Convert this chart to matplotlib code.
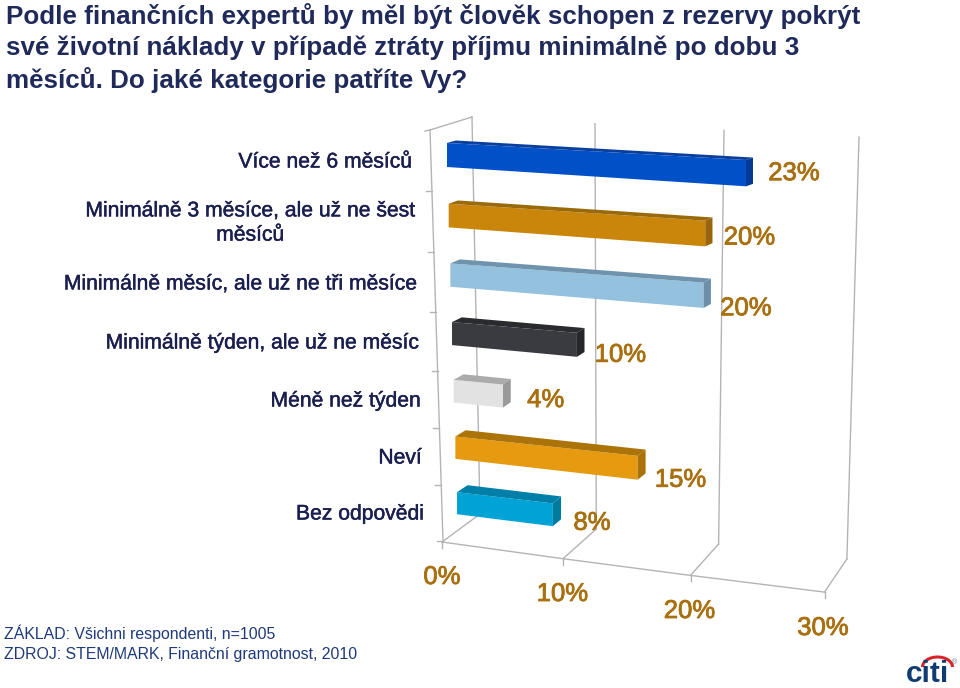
#!/usr/bin/env python3
"""
plot.py
Perspective bar chart of how long savings would cover living costs.
"""

import matplotlib

matplotlib.use("Agg")
import matplotlib.patheffects as pe
import matplotlib.pyplot as plt
from matplotlib.patches import Arc

TITLE_LINES = [
    "Podle finančních expertů by měl být člověk schopen z rezervy pokrýt",
    "své životní náklady v případě ztráty příjmu minimálně po dobu 3",
    "měsíců. Do jaké kategorie patříte Vy?",
]
CATEGORIES = [
    "Více než 6 měsíců",
    "Minimálně 3 měsíce, ale už ne šest\nměsíců",
    "Minimálně měsíc, ale už ne tři měsíce",
    "Minimálně týden, ale už ne měsíc",
    "Méně než týden",
    "Neví",
    "Bez odpovědi",
]
VALUES = [23, 20, 20, 10, 4, 15, 8]
AXIS_TICKS = [0, 10, 20, 30]
FOOTER_LINES = [
    "ZÁKLAD: Všichni respondenti, n=1005",
    "ZDROJ: STEM/MARK, Finanční gramotnost, 2010",
]

# front, top and side face of each bar
FRONT_COLORS = ["#0050c8", "#c9860b", "#93c1de", "#3a3b40", "#e2e2e2", "#e59a10", "#00a3d6"]
TOP_COLORS = ["#0a3f9e", "#9a6a0a", "#6f93ac", "#2a2b2f", "#ababab", "#ac7408", "#0080a8"]
SIDE_COLORS = ["#003a94", "#9a6508", "#6c90a8", "#26272a", "#999999", "#aa7209", "#007ba0"]

NAVY = "#1b1f4f"
GOLD = "#a8700f"
GRID = "#b4b4b4"
FONT = "Liberation Sans"

# nudges of the value labels from the bar end, in pixels
LABEL_DX = [41, 37, 35, 36, 35, 35, 31]
LABEL_DY = [0, 4, 13, 10, 4, 12, 8]
# right edge of the category labels
CAT_RIGHT = [412, 415, 417, 419, 421, 422, 424]
CAT_Y = [162, 223, 284, 343, 401, 458, 514]
BOUNDARIES = [191, 252, 312, 371, 428, 485]


def quad(v, a, b, c):
    return a + b * v + c * v * v


# perspective planes: value -> pixel
def floor_front(v):
    return quad(v, 442, 11.775, 0.0325), 542 + 1.67 * v


def floor_back(v):
    return quad(v, 480, 11.33, 0.03), 514 + 1.5 * v


def wall_top(v):
    return quad(v, 472, 12.0, 0.03), 117 + 0.67 * v


def bar_point(i, v):
    # top front corner of row i at value v
    x = 447 + 1.67 * i + (13 - 0.17 * i) * v
    y = 143 + 61.2 * i - 0.5 * i * i + (0.74 + 0.11 * i) * v
    return x, y


def thick_text(ax, x, y, text, color, width, **kw):
    # the reference text is slightly thicker than the regular weight
    t = ax.text(x, y, text, color=color, fontfamily=FONT, **kw)
    t.set_path_effects([pe.withStroke(linewidth=width, foreground=color)])
    return t


def draw_bar(ax, i, v):
    x0, y0 = bar_point(i, 0)
    x1, y1 = bar_point(i, v)
    h0 = 24 - 0.33 * i
    h1 = h0 + 0.1 * v
    dy = -(2.5 + 0.75 * i)
    dx0 = 9 + 0.25 * i
    dx1 = 7 + 0.2 * i

    ax.fill([x0, x1, x1, x0], [y0, y1, y1 + h1, y0 + h0], color=FRONT_COLORS[i], lw=0, zorder=3)
    ax.fill(
        [x0, x0 + dx0, x1 + dx1, x1],
        [y0, y0 + dy, y1 + dy, y1],
        color=TOP_COLORS[i], lw=0, zorder=3,
    )
    ax.fill(
        [x1, x1 + dx1, x1 + dx1, x1],
        [y1, y1 + dy, y1 + dy + h1, y1 + h1],
        color=SIDE_COLORS[i], lw=0, zorder=3,
    )
    thick_text(
        ax, x1 + dx1 + LABEL_DX[i], y1 + h1 / 2 + LABEL_DY[i], f"{v}%", GOLD, 0.6,
        fontsize=18.5, ha="center", va="center", zorder=4,
    )


def draw_frame(ax):
    line = dict(color=GRID, lw=1.0, zorder=1)

    # left wall
    ax.plot([430, 443], [130, 541], **line)
    ax.plot([430, 472], [130, 117], **line)
    ax.plot([472, 480], [117, 514], **line)
    ax.plot([425, 430], [131, 130], **line)
    for y in BOUNDARIES:
        x = 430 + (y - 130) * 13 / 411
        ax.plot([x - 6, x], [y, y], **line)
    ax.plot([437, 443], [541, 541], **line)

    # floor and back wall
    xf = [floor_front(v) for v in AXIS_TICKS]
    ax.plot([p[0] for p in xf], [p[1] for p in xf], **line)
    for v in AXIS_TICKS:
        fx, fy = floor_front(v)
        bx, by = floor_back(v)
        tx, ty = wall_top(v)
        ax.plot([fx, fx], [fy, fy + 6], **line)
        ax.plot([fx, bx], [fy, by], **line)
        if v > 0:
            ax.plot([bx, tx], [by, ty], **line)
        thick_text(
            ax, fx - v * 0.05, fy + 35 + v * 0.03, f"{v}%", GOLD, 0.6,
            fontsize=18.5, ha="center", va="center",
        )


def draw_logo(ax):
    ax.text(
        927.5, 681.5, "citi", color="#0f3b73", fontsize=21.5, fontweight="bold",
        fontfamily=FONT, ha="center", va="baseline",
    )
    ax.add_patch(Arc((937.5, 667), 30, 20, theta1=180, theta2=360, color="#d8232a", lw=2.2))
    ax.text(955, 663, "®", color="#6c7a90", fontsize=5, fontfamily=FONT, ha="center", va="center")


def main():
    fig = plt.figure(figsize=(9.6, 6.88), dpi=100)
    ax = fig.add_axes([0, 0, 1, 1])
    ax.set_xlim(0, 960)
    ax.set_ylim(688, 0)
    ax.axis("off")

    for k, text in enumerate(TITLE_LINES):
        ax.text(
            6, 16 + k * 32, text, color="#1f2a5a", fontsize=18.7, fontweight="bold",
            fontfamily=FONT, ha="left", va="center",
        )

    draw_frame(ax)

    for i, v in enumerate(VALUES):
        draw_bar(ax, i, v)

    for i, name in enumerate(CATEGORIES):
        thick_text(
            ax, CAT_RIGHT[i], CAT_Y[i], name, NAVY, 0.35, fontsize=15.2,
            ha="right", va="center", multialignment="center", linespacing=1.35,
        )

    for k, text in enumerate(FOOTER_LINES):
        ax.text(
            4, 633 + k * 22, text, color="#1f3a7a", fontsize=11.4, fontfamily=FONT,
            ha="left", va="center",
        )

    draw_logo(ax)
    fig.savefig("out.png", dpi=100)


if __name__ == "__main__":
    main()
